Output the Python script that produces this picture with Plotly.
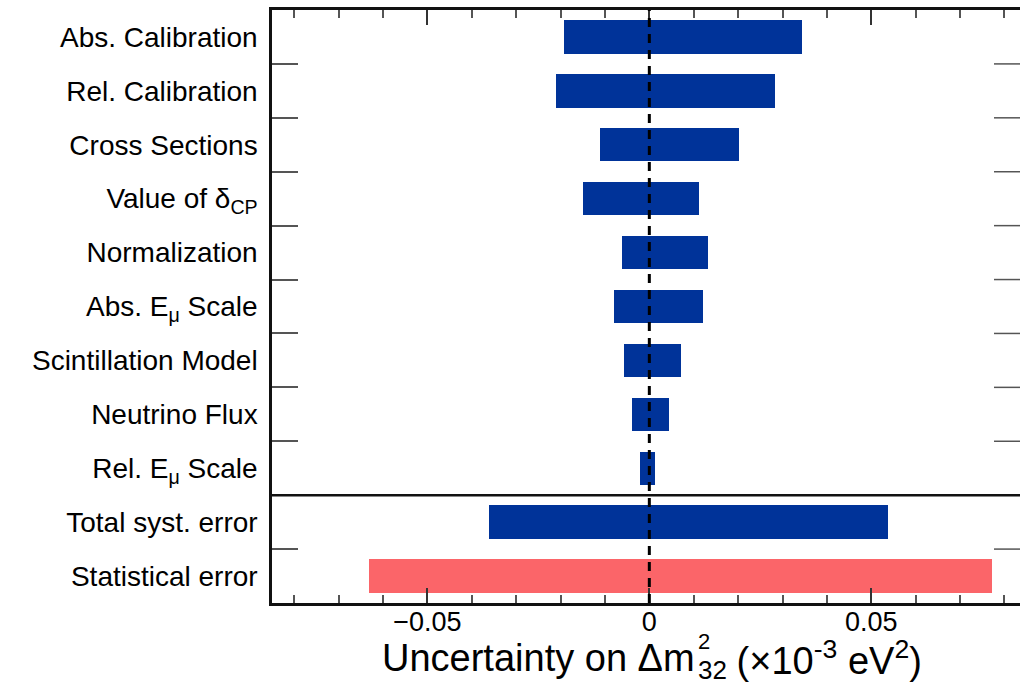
import plotly.graph_objects as go

# Systematic and statistical uncertainty contributions (x10^-3 eV^2)
labels = [
    "Abs. Calibration",
    "Rel. Calibration",
    "Cross Sections",
    "Value of δ<sub>CP</sub>",
    "Normalization",
    "Abs. E<sub>μ</sub> Scale",
    "Scintillation Model",
    "Neutrino Flux",
    "Rel. E<sub>μ</sub> Scale",
    "Total syst. error",
    "Statistical error",
]
low = [-0.0193, -0.0211, -0.0111, -0.0150, -0.0062, -0.0080,
       -0.0057, -0.0038, -0.0020, -0.0361, -0.0631]
high = [0.0343, 0.0283, 0.0202, 0.0111, 0.0132, 0.0121,
        0.0072, 0.0045, 0.0013, 0.0537, 0.0773]

BLUE = "#003399"
RED = "#FB6569"
FONT = "Liberation Sans, Arial, Helvetica, sans-serif"

colors = [BLUE] * (len(labels) - 1) + [RED]

fig = go.Figure()
fig.add_trace(go.Bar(
    y=labels,
    x=[h - l for l, h in zip(low, high)],
    base=low,
    orientation="h",
    marker=dict(color=colors, line=dict(width=0)),
    width=0.62,
    showlegend=False,
))

shapes = []
# Dashed line at zero
shapes.append(dict(type="line", xref="x", yref="paper", x0=0, x1=0, y0=0, y1=1,
                   line=dict(color="black", width=3, dash="9px,7px"), layer="above"))
# Separator between individual systematics and the totals
n_sys = len(labels) - 2
shapes.append(dict(type="line", xref="paper", yref="y", x0=0, x1=1,
                   y0=n_sys - 0.5, y1=n_sys - 0.5,
                   line=dict(color="#111111", width=2.5), layer="above"))
# Right-hand boundary ticks
plot_w = 1020 - 272
for i in range(len(labels) - 1):
    if i == n_sys - 1:
        continue
    shapes.append(dict(type="line", xref="paper", yref="y",
                       x0=1 - 26 / plot_w, x1=1, y0=i + 0.5, y1=i + 0.5,
                       line=dict(color="#555555", width=1.5), layer="above"))

# Axis title pieces, with stacked super/subscript on the mass splitting
TS = 38
x0 = (697 - 272) / plot_w
title_y = -55
annotations = [
    dict(text="Uncertainty on Δm", xref="paper", yref="paper", x=x0, y=0,
         xanchor="right", yanchor="middle", yshift=title_y, showarrow=False,
         font=dict(family=FONT, size=TS, color="black")),
    dict(text="2", xref="paper", yref="paper", x=x0 - 1 / plot_w, y=0,
         xanchor="left", yanchor="middle", yshift=title_y + 17, showarrow=False,
         font=dict(family=FONT, size=22, color="black")),
    dict(text="32", xref="paper", yref="paper", x=x0 - 1 / plot_w, y=0,
         xanchor="left", yanchor="middle", yshift=title_y - 12, showarrow=False,
         font=dict(family=FONT, size=26, color="black")),
    dict(text=" (×10<sup>-3</sup> eV<sup>2</sup>)", xref="paper", yref="paper",
         x=x0 + 27 / plot_w, y=0, xanchor="left", yanchor="middle",
         yshift=title_y, showarrow=False,
         font=dict(family=FONT, size=TS, color="black")),
]

fig.update_layout(
    width=1020,
    height=684,
    margin=dict(l=272, r=0, t=10, b=81),
    paper_bgcolor="white",
    plot_bgcolor="white",
    font=dict(family=FONT, color="black"),
    bargap=0,
    shapes=shapes,
    annotations=annotations,
    xaxis=dict(
        range=[-0.085, 0.0835],
        tick0=0,
        dtick=0.05,
        ticks="inside",
        ticklen=15,
        tickwidth=1.5,
        tickcolor="#333333",
        minor=dict(dtick=0.01, ticks="inside", ticklen=8, tickwidth=1.5,
                   tickcolor="#555555"),
        showline=True,
        linewidth=2.5,
        linecolor="#111111",
        mirror="allticks",
        showgrid=False,
        zeroline=False,
        ticklabelstandoff=-7,
        tickfont=dict(family=FONT, size=27, color="black"),
    ),
    yaxis=dict(
        categoryorder="array",
        categoryarray=labels,
        range=[len(labels) - 0.5, -0.5],
        tickson="boundaries",
        ticks="inside",
        ticklen=26,
        tickwidth=1.5,
        tickcolor="#555555",
        showline=True,
        linewidth=2.5,
        linecolor="#111111",
        mirror=False,
        showgrid=False,
        zeroline=False,
        ticklabelstandoff=6,
        tickfont=dict(family=FONT, size=28, color="black"),
    ),
)

fig.write_html("out.html")
